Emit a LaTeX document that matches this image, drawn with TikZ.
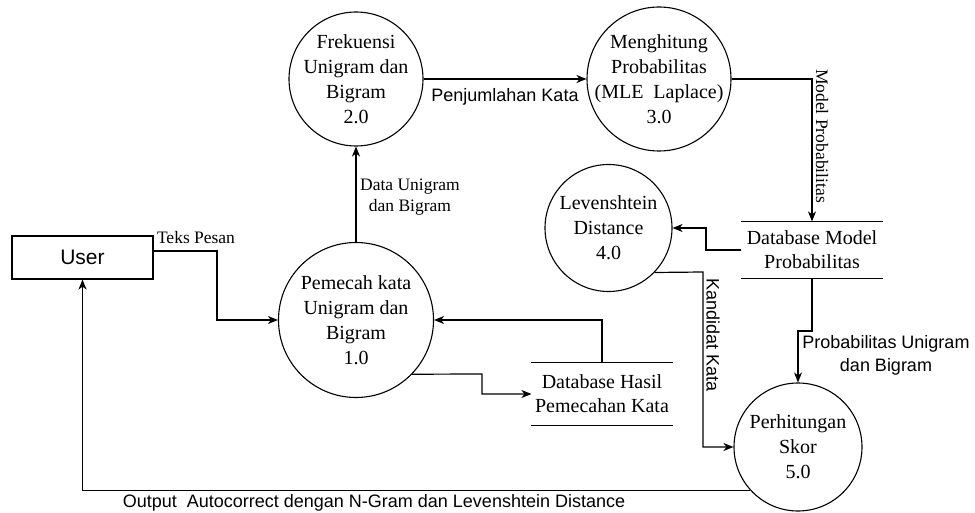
\documentclass[tikz,border=0pt]{standalone}
\usepackage{fontspec}
\setmainfont{Liberation Serif}
\setsansfont{Liberation Sans}
\usetikzlibrary{arrows.meta}
\begin{document}
\begin{tikzpicture}[x=1pt,y=-1pt,
  line width=1.2pt,
  arr/.style={-{Stealth[length=10pt,width=8pt,inset=3pt]}},
  proc/.style={circle,draw,line width=1.1pt,inner sep=0pt},
  ptext/.style={align=center,font=\fontsize{20}{25}\selectfont,inner sep=0pt},
  store/.style={minimum width=140pt,inner sep=0pt,align=center,font=\fontsize{20}{24}\selectfont},
  storeline/.style={line width=1pt},
  slab/.style={font=\sffamily\fontsize{18}{23}\selectfont,inner sep=0pt,align=center},
  rlab/.style={font=\fontsize{17.5}{21}\selectfont,inner sep=0pt,align=center}]
\useasboundingbox (0,0) rectangle (975,513);

% external entity
\node[draw,line width=1.1pt,minimum width=141pt,minimum height=43pt,inner sep=0pt,
      font=\sffamily\fontsize{21}{25}\selectfont] (user) at (82.5,257.5) {User};

% processes
\node[proc,minimum size=155pt] (c1) at (356,320) {};
\node[ptext] (t1) at (c1) {Pemecah kata\\Unigram dan\\Bigram\\1.0};
\node[proc,minimum size=134pt] (c2) at (356,79) {};
\node[ptext] (t2) at (c2) {Frekuensi\\Unigram dan\\Bigram\\2.0};
\node[proc,minimum size=144pt] (c3) at (659,79) {};
\node[ptext] (t3) at (c3) {Menghitung\\Probabilitas\\(MLE\ \ Laplace)\\3.0};
\node[proc,minimum size=127pt] (c4) at (608.5,228) {};
\node[ptext] (t4) at (c4) {Levenshtein\\Distance\\4.0};
\node[proc,minimum size=128pt] (c5) at (798,447) {};
\node[ptext] (t5) at (c5) {Perhitungan\\Skor\\5.0};

% data stores
\node[store,minimum height=56pt] (dbm) at (812,250) {Database Model\\Probabilitas};
\draw[storeline] (dbm.north west) -- (dbm.north east) (dbm.south west) -- (dbm.south east);
\node[store,minimum height=62pt] (dbh) at (602,394) {Database Hasil\\Pemecahan Kata};
\draw[storeline] (dbh.north west) -- (dbh.north east) (dbh.south west) -- (dbh.south east);

% flows
\draw[arr] ([yshift=6.5pt]user.east) -- (217,251) -- (217,320) -- (c1.west);
\draw[arr] (c1.north) -- (c2.south);
\draw[arr] (c2.east) -- (c3.west);
\draw[arr] (c3.east) -| (dbm.north);
\draw[arr] (dbm.west) -- (706,250) |- (c4.east);
\draw[arr] (c4.-44) -- (703,272) |- (c5.west);
\draw[arr] (dbm.south) -- (812,331) -- (798,331) -- (c5.north);
\draw[arr] (c5.222) -| (user.south);
\draw[arr] (c1.-44) -- (482,374) |- (dbh.west);
\draw[arr] (dbh.north) |- (c1.east);

% labels
\node[rlab] (l1) at (196,238) {Teks Pesan};
\node[rlab] (l2) at (410,197) {Data Unigram\\dan Bigram};
\node[slab] (l3) at (505,97) {Penjumlahan Kata};
\node[rlab,rotate=-90] (l4) at (822,136) {Model Probabilitas};
\node[slab,rotate=-90] (l5) at (713,335) {Kandidat Kata};
\node[slab] (l6) at (886,355) {Probabilitas Unigram\\dan Bigram};
\node[slab] (l7) at (374,503) {Output\ \ Autocorrect dengan N-Gram dan Levenshtein Distance};
\end{tikzpicture}
\end{document}
